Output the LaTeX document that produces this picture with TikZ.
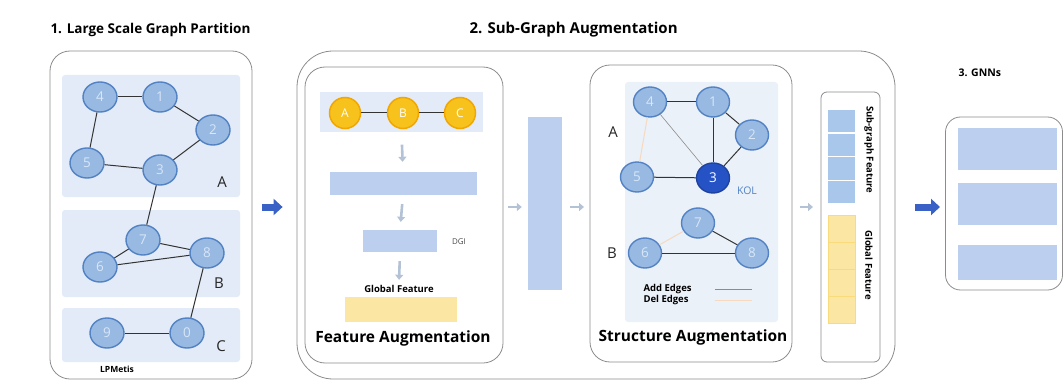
\documentclass[tikz,border=0pt]{standalone}
\usepackage{fontspec}
\setmainfont{Open Sans}
\usepackage{tikz}
\usetikzlibrary{arrows.meta,positioning,shapes.geometric}

\definecolor{panelfill}{HTML}{E2EBF7}
\definecolor{nodefill}{HTML}{98B9E1}
\definecolor{nodeedge}{HTML}{5282C4}
\definecolor{nodetext}{HTML}{D8E6F7}
\definecolor{kolfill}{HTML}{2553C6}
\definecolor{goldfill}{HTML}{F7C21C}
\definecolor{goldedge}{HTML}{F2A600}
\definecolor{boxblue}{HTML}{BCCFEE}
\definecolor{barfill}{HTML}{FBE6A4}
\definecolor{cellblue}{HTML}{A9C7EA}
\definecolor{arrowgray}{HTML}{B4C2D6}
\definecolor{fatblue}{HTML}{3A62C6}
\definecolor{framegray}{HTML}{8C8C8C}
\definecolor{deledge}{HTML}{F6D9BE}

\tikzset{
  frame/.style={draw=framegray,line width=0.8pt,rounded corners=20pt,inner sep=0pt},
  panel/.style={fill=panelfill,rounded corners=3pt,inner sep=0pt},
  gnode/.style={ellipse,draw=nodeedge,fill=nodefill,line width=1.4pt,minimum width=34pt,
    minimum height=30pt,inner sep=0pt,text=nodetext,font=\fontsize{13.5}{14}\selectfont},
  kolnode/.style={gnode,fill=kolfill,draw=kolfill!80!black,text=white},
  goldnode/.style={circle,draw=goldedge,fill=goldfill,line width=1.5pt,minimum size=31pt,
    inner sep=0pt,text=white,font=\fontsize{12}{12}\selectfont},
  edge/.style={draw=black!80,line width=1pt},
  addedge/.style={draw=black!45,line width=0.6pt},
  deledgeline/.style={draw=deledge,line width=1pt},
  partlabel/.style={font=\fontsize{15}{15}\selectfont,text=black!85},
  title/.style={anchor=west,font=\fontsize{13.5}{15}\selectfont\bfseries},
  subtitle/.style={font=\fontsize{15.5}{17}\selectfont\bfseries},
  small/.style={font=\fontsize{9.5}{11}\selectfont\bfseries},
  bluebox/.style={fill=boxblue,inner sep=0pt},
  fatarrow/.style={-{Triangle[length=9pt,width=16pt]},line width=7pt,fatblue},
  grayarrow/.style={-{Triangle[length=5pt,width=8pt]},line width=2.6pt,arrowgray},
}

\begin{document}
\begin{tikzpicture}[x=1pt,y=-1pt]
  \useasboundingbox (0,0) rectangle (1064,382);
  \coordinate (row) at (0,207);

  % ---------- 1. Large Scale Graph Partition ----------
  \node[title] (t1) at (47,30) {1. Large Scale Graph Partition};
  \node[frame,minimum width=202pt,minimum height=328pt] (part) at (151,215) {};

  \node[panel,minimum width=178pt,minimum height=122pt] (pA) at (151,136) {};
  \node[panel,minimum width=178pt,minimum height=87pt] (pB) at (151,253.5) {};
  \node[panel,minimum width=178pt,minimum height=54pt] (pC) at (151,335) {};

  \node[gnode] (n4) at (100,97) {4};
  \node[gnode] (n1) at (160,97) {1};
  \node[gnode] (n2) at (213,130) {2};
  \node[gnode] (n5) at (87,163) {5};
  \node[gnode] (n3) at (160,170) {3};
  \node[gnode] (n7) at (143,240) {7};
  \node[gnode] (n6) at (100,267) {6};
  \node[gnode] (n8) at (207,253) {8};
  \node[gnode] (n9) at (107,333) {9};
  \node[gnode] (n0) at (187,333) {0};

  \foreach \a/\b in {n4/n1,n1/n2,n4/n5,n5/n3,n3/n2,n3/n7,n7/n6,n7/n8,n6/n8,n8/n0,n9/n0}
    \draw[edge] (\a) -- (\b);

  \node[partlabel] (lA) at (222,182) {A};
  \node[partlabel] (lB) at (219,283) {B};
  \node[partlabel] (lC) at (221,346) {C};
  \node[small,font=\fontsize{8.5}{10}\selectfont\bfseries] (lpm) at (117,369) {LPMetis};

  % ---------- 2. Sub-Graph Augmentation ----------
  \node[title,font=\fontsize{15}{17}\selectfont\bfseries] (t2) at (466,30) {2. Sub-Graph Augmentation};
  \node[frame,rounded corners=36pt,minimum width=598pt,minimum height=328pt] (aug) at (596,215) {};

  % feature augmentation
  \node[frame,minimum width=198pt,minimum height=296pt] (feat) at (404,215) {};
  \node[panel,rounded corners=0pt,minimum width=163pt,minimum height=40pt] (strip) at (401.5,112.5) {};
  \node[goldnode] (fA) at (345,113) {A};
  \node[goldnode] (fB) at (403,113) {B};
  \node[goldnode] (fC) at (460,113) {C};
  \draw[edge] (fA) -- (fB);
  \draw[edge] (fB) -- (fC);

  \node[bluebox,minimum width=147pt,minimum height=23pt] (fe) at (403,183.5) {};
  \node[bluebox,minimum width=74pt,minimum height=22pt] (dgi) at (400,241) {};
  \node[font=\fontsize{8}{9}\selectfont,text=black!70] (dgil) at (459,242) {DGI};
  \node[small] (gfl) at (399,289) {Global Feature};
  \node[fill=barfill,inner sep=0pt,minimum width=112pt,minimum height=25pt] (gbar) at (401,309.5) {};
  \node[subtitle] (fal) at (403,338) {Feature Augmentation};

  \draw[grayarrow,shorten <=12pt,shorten >=10pt] (strip.south) -- (fe.north);
  \draw[grayarrow,shorten <=9pt,shorten >=8pt] (fe.south) -- (dgi.north);
  \draw[grayarrow,shorten <=9pt,shorten >=2pt] (dgi.south) -- (gfl.north);

  % sampling column
  \node[bluebox,minimum width=34pt,minimum height=173pt] (vbox) at (545,203.5) {};
  \draw[grayarrow,shorten <=5pt,shorten >=6pt] (feat.east |- row) -- (vbox.west |- row);
  \draw[grayarrow,shorten <=8pt,shorten >=6pt] (vbox.east |- row) -- (590,207);

  % structure augmentation
  \node[frame,minimum width=202pt,minimum height=297pt] (struct) at (691,213.5) {};
  \node[panel,fill=panelfill!70,minimum width=153pt,minimum height=240pt] (sp) at (701.5,202) {};

  \node[gnode,minimum width=33pt] (s4) at (650,102) {4};
  \node[gnode,minimum width=33pt] (s1) at (713,102) {1};
  \node[gnode,minimum width=33pt] (s2) at (752,135) {2};
  \node[gnode,minimum width=33pt] (s5) at (637,177) {5};
  \node[kolnode,minimum width=33pt] (s3) at (713,178) {3};
  \node[gnode,minimum width=33pt] (s7) at (698,223) {7};
  \node[gnode,minimum width=33pt] (s6) at (645,253) {6};
  \node[gnode,minimum width=33pt] (s8) at (752,253) {8};

  \draw[deledgeline] (s4) -- (s5);
  \draw[deledgeline] (s6) -- (s7);
  \draw[addedge] (s4) -- (s3);
  \foreach \a/\b in {s4/s1,s1/s2,s1/s3,s2/s3,s5/s3,s7/s8,s6/s8}
    \draw[edge] (\a) -- (\b);

  \node[partlabel] (sA) at (613,132) {A};
  \node[partlabel] (sB) at (612,253) {B};
  \node[font=\fontsize{10.5}{12}\selectfont,text=nodeedge] (kol) at (747,191) {KOL};

  \node[small,anchor=west] (addl) at (640,289) {Add Edges};
  \node[small,anchor=west] (dell) at (640,300) {Del Edges};
  \coordinate (addA) at (715,289);
  \coordinate (addB) at (752,289);
  \coordinate (delA) at (715,300);
  \coordinate (delB) at (752,300);
  \draw[addedge] (addA) -- (addB);
  \draw[deledgeline] (delA) -- (delB);
  \node[subtitle] (sal) at (693,337) {Structure Augmentation};

  % feature vector
  \draw[grayarrow,shorten <=8pt,shorten >=8pt] (struct.east |- row) -- (821,207);
  \node[frame,rounded corners=6pt,minimum width=59pt,minimum height=270pt] (vec) at (850.5,227) {};
  \foreach \i in {0,...,3}
    \node[fill=cellblue,inner sep=0pt,minimum width=27pt,minimum height=22pt] (sc\i) at (841.5,121.5+\i*23.5) {};
  \foreach \i in {0,...,3}
    \node[fill=barfill,draw=barfill!70!goldfill,line width=0.3pt,inner sep=0pt,minimum width=27pt,
      minimum height=27pt] (gc\i) at (841.5,228.5+\i*27) {};
  \node[rotate=-90,font=\fontsize{9.5}{11}\selectfont\bfseries] (sgl) at (869,150) {Sub-graph Feature};
  \node[rotate=-90,font=\fontsize{9.5}{11}\selectfont\bfseries] (gfv) at (869,265) {Global Feature};

  % ---------- 3. GNNs ----------
  \node[title,font=\fontsize{10.5}{12}\selectfont\bfseries] (t3) at (955,73) {3. GNNs};
  \draw[fatarrow,shorten <=20pt,shorten >=5pt] (aug.east |- row) -- (945,207);
  \node[frame,rounded corners=15pt,minimum width=117pt,minimum height=173pt] (gnn) at (1004,203.5) {};
  \node[bluebox,minimum width=99pt,minimum height=42pt] (g1) at (1007.5,149) {};
  \node[bluebox,minimum width=99pt,minimum height=42pt] (g2) at (1007.5,204) {};
  \node[bluebox,minimum width=99pt,minimum height=35pt] (g3) at (1007.5,262.5) {};

  \draw[fatarrow,shorten <=10pt,shorten >=14pt] (part.east |- row) -- (aug.west |- row);
\end{tikzpicture}
\end{document}
